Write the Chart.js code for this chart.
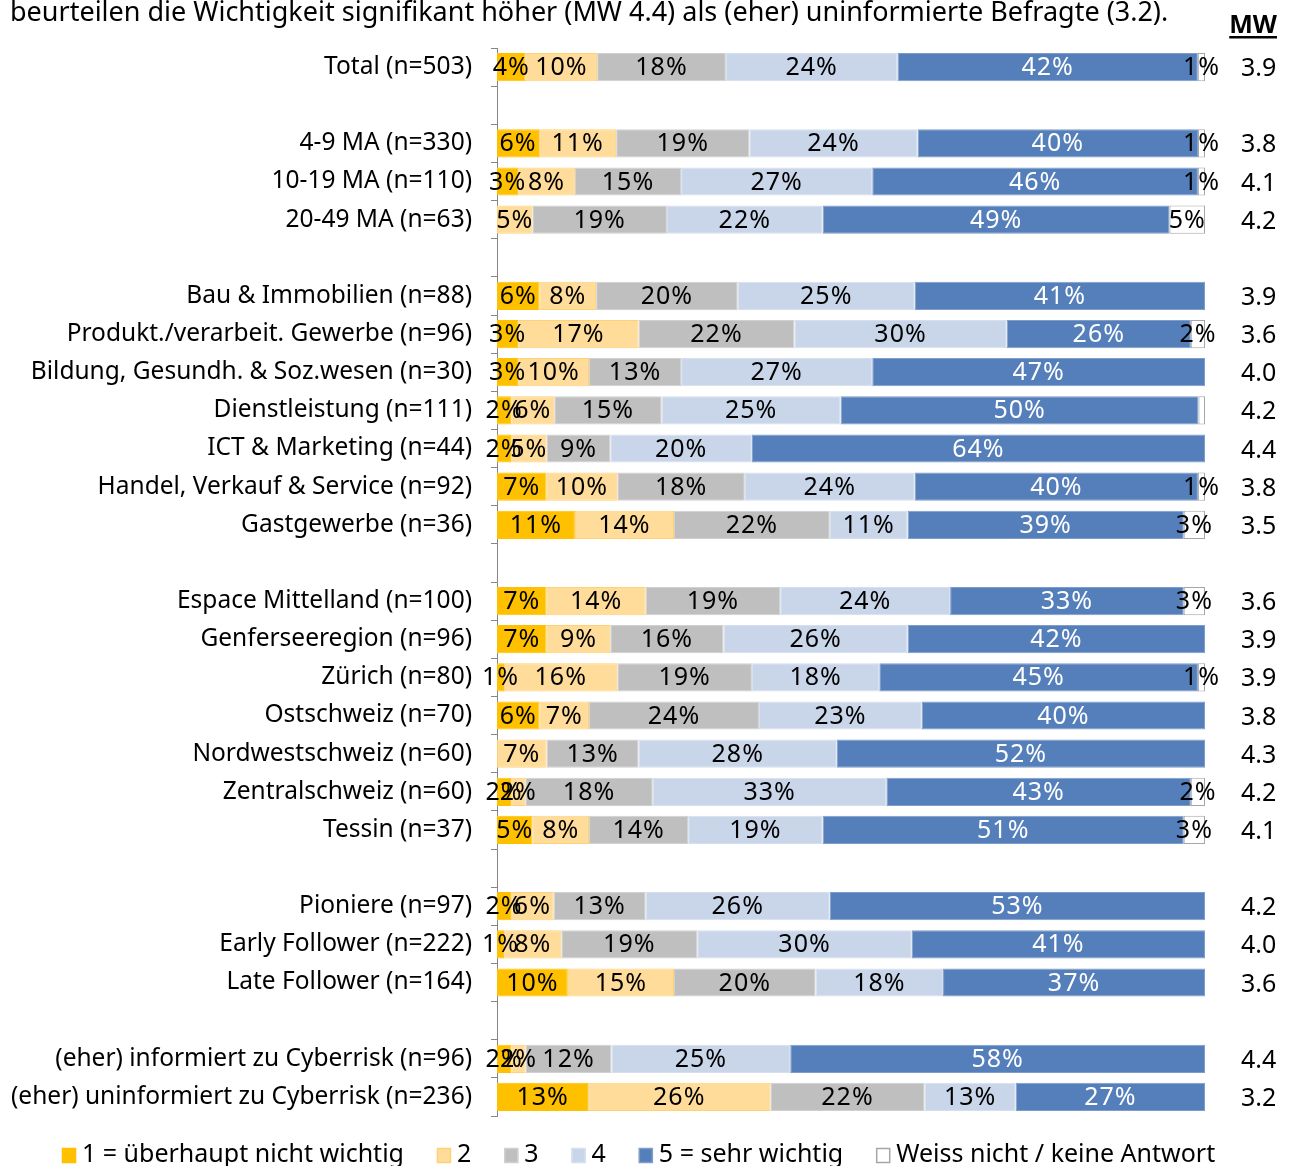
<!DOCTYPE html>
<html lang="de">
<head>
<meta charset="utf-8">
<title>Wichtigkeit Cyberrisk</title>
<script src="https://cdn.jsdelivr.net/npm/chart.js@4/dist/chart.umd.min.js"></script>
<style>
  html, body { margin: 0; padding: 0; background: #fff; }
  #wrap { position: relative; width: 1296px; height: 1166px; overflow: hidden; }
</style>
</head>
<body>
<div id="wrap"><canvas id="chart"></canvas></div>
<script>
// Kategorien ('' = Leerzeile zwischen Gruppen)
const categories = [
  'Total (n=503)', '',
  '4-9 MA (n=330)', '10-19 MA (n=110)', '20-49 MA (n=63)', '',
  'Bau & Immobilien (n=88)', 'Produkt./verarbeit. Gewerbe (n=96)', 'Bildung, Gesundh. & Soz.wesen (n=30)',
  'Dienstleistung (n=111)', 'ICT & Marketing (n=44)', 'Handel, Verkauf & Service (n=92)', 'Gastgewerbe (n=36)', '',
  'Espace Mittelland (n=100)', 'Genferseeregion (n=96)', 'Zürich (n=80)', 'Ostschweiz (n=70)',
  'Nordwestschweiz (n=60)', 'Zentralschweiz (n=60)', 'Tessin (n=37)', '',
  'Pioniere (n=97)', 'Early Follower (n=222)', 'Late Follower (n=164)', '',
  '(eher) informiert zu Cyberrisk (n=96)', '(eher) uninformiert zu Cyberrisk (n=236)'
];

const seriesLabels = ['1 = überhaupt nicht wichtig', '2', '3', '4', '5 = sehr wichtig', 'Weiss nicht / keine Antwort'];

// Werte in %
const s1 = [4, null, 6, 3, 0, null, 6, 3, 3, 2, 2, 7, 11, null, 7, 7, 1, 6, 0, 2, 5, null, 2, 1, 10, null, 2, 13];
const s2 = [10, null, 11, 8, 5, null, 8, 17, 10, 6, 5, 10, 14, null, 14, 9, 16, 7, 7, 2, 8, null, 6, 8, 15, null, 2, 26];
const s3 = [18, null, 19, 15, 19, null, 20, 22, 13, 15, 9, 18, 22, null, 19, 16, 19, 24, 13, 18, 14, null, 13, 19, 20, null, 12, 22];
const s4 = [24, null, 24, 27, 22, null, 25, 30, 27, 25, 20, 24, 11, null, 24, 26, 18, 23, 28, 33, 19, null, 26, 30, 18, null, 25, 13];
const s5 = [42, null, 40, 46, 49, null, 41, 26, 47, 50, 64, 40, 39, null, 33, 42, 45, 40, 52, 43, 51, null, 53, 41, 37, null, 58, 27];
const s6 = [1, null, 1, 1, 5, null, 0, 2, 0, 0.9, 0, 1, 3, null, 3, 0, 1, 0, 0, 2, 3, null, 0, 0, 0, null, 0, 0];

// Mittelwerte
const mw = ['3.9', '', '3.8', '4.1', '4.2', '', '3.9', '3.6', '4.0', '4.2', '4.4', '3.8', '3.5', '',
  '3.6', '3.9', '3.9', '3.8', '4.3', '4.2', '4.1', '', '4.2', '4.0', '3.6', '', '4.4', '3.2'];

const rawSeries = [s1, s2, s3, s4, s5, s6];
const fillColors = ['#FFC000', '#FFDC9A', '#BFBFBF', '#C9D6E9', '#557FBA', '#FFFFFF'];
const edgeColors = ['#FFC000', '#FFD175', '#D0D0D0', '#D5DFEE', '#7E9DCB', '#A6A6A6'];
const textColors = ['#000', '#000', '#000', '#000', '#fff', '#000'];

const FONT = "'Noto Sans', 'Open Sans', sans-serif";

// 100%-Stapel wie in Excel: jede Zeile auf ihre Summe normieren
const rowSums = categories.map((c, j) => rawSeries.reduce((a, s) => a + (s[j] || 0), 0));
const datasets = rawSeries.map((s, i) => ({
  label: seriesLabels[i],
  data: s.map((v, j) => (v ? v / rowSums[j] * 100 : null)),
  backgroundColor: fillColors[i],
  borderColor: edgeColors[i],
  borderWidth: 1,
  borderSkipped: false,
  barPercentage: 0.74,
  categoryPercentage: 1
}));

const decorPlugin = {
  id: 'decor',
  afterDatasetsDraw(chart) {
    const ctx = chart.ctx;
    ctx.save();
    ctx.font = '25px ' + FONT;
    ctx.letterSpacing = '1px';
    ctx.textAlign = 'center';
    ctx.textBaseline = 'middle';
    rawSeries.forEach((s, i) => {
      const meta = chart.getDatasetMeta(i);
      meta.data.forEach((bar, j) => {
        const v = s[j];
        if (v == null || v < 1) return;
        ctx.fillStyle = textColors[i];
        ctx.fillText(v + '%', (bar.x + bar.base) / 2, bar.y + 1);
      });
    });
    ctx.restore();
  },
  afterDraw(chart) {
    const ctx = chart.ctx;
    const yScale = chart.scales.y;
    ctx.save();
    ctx.fillStyle = '#000';

    // Titelzeile (oben angeschnitten)
    ctx.font = '27px ' + FONT;
    ctx.textAlign = 'left';
    ctx.textBaseline = 'alphabetic';
    ctx.fillText('beurteilen die Wichtigkeit signifikant höher (MW 4.4) als (eher) uninformierte Befragte (3.2).', 10, 21);

    // MW Kopf
    ctx.font = 'bold 25px ' + FONT;
    ctx.textAlign = 'right';
    ctx.fillText('MW', 1277, 33);
    const w = ctx.measureText('MW').width;
    ctx.fillRect(1277 - w, 36, w, 2.5);

    // MW Werte
    ctx.font = '25px ' + FONT;
    ctx.textAlign = 'left';
    ctx.textBaseline = 'middle';
    mw.forEach((m, j) => {
      if (!m) return;
      ctx.fillText(m, 1241, yScale.getPixelForValue(j) + 2);
    });

    // Legende
    ctx.font = '25px ' + FONT;
    let x = 62;
    const yMid = 1155;
    seriesLabels.forEach((lab, i) => {
      ctx.fillStyle = fillColors[i];
      ctx.fillRect(x, yMid - 7, 14, 15);
      ctx.strokeStyle = edgeColors[i];
      ctx.lineWidth = 1.5;
      ctx.strokeRect(x + 0.5, yMid - 6.5, 13, 14);
      ctx.fillStyle = '#000';
      ctx.fillText(lab, x + 20, yMid);
      x += 20 + ctx.measureText(lab).width + 33;
    });
    ctx.restore();
  }
};

new Chart(document.getElementById('chart'), {
  type: 'bar',
  data: { labels: categories, datasets: datasets },
  options: {
    indexAxis: 'y',
    responsive: true,
    maintainAspectRatio: false,
    animation: false,
    layout: { padding: { top: 48, right: 91, bottom: 50, left: 0 } },
    plugins: { legend: { display: false }, tooltip: { enabled: false } },
    scales: {
      x: { display: false, stacked: true, min: 0, max: 100 },
      y: {
        stacked: true,
        afterFit(scale) { scale.width = 497; },
        border: { display: true, color: '#868686', width: 1 },
        grid: { offset: true, drawOnChartArea: false, drawTicks: true, tickLength: 6, color: '#868686' },
        ticks: { autoSkip: false, padding: 19, color: '#000', font: { family: FONT, size: 24.5 } }
      }
    }
  },
  plugins: [decorPlugin]
});
</script>
</body>
</html>
